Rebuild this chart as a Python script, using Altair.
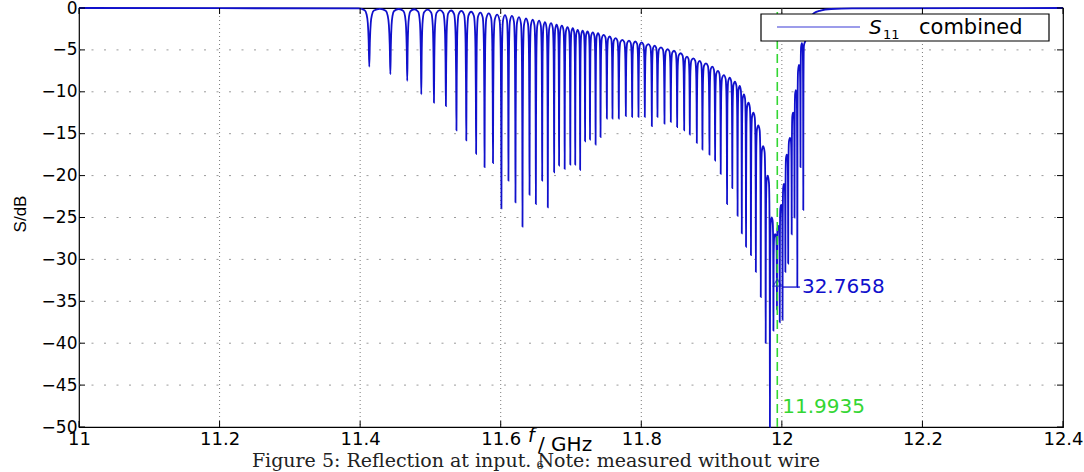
import altair as alt
import pandas as pd

# ---------------- values ----------------
x_ticks = [11.0, 11.2, 11.4, 11.6, 11.8, 12.0, 12.2, 12.4]
y_ticks = [0, -5, -10, -15, -20, -25, -30, -35, -40, -45, -50]

# flat part before the comb
head_ghz = [11.0, 11.2, 11.398]
head_db = [0.0, -0.02, -0.05]

# notch (dip) centres and depths
dip_ghz = [11.413, 11.443, 11.467, 11.487, 11.505, 11.522, 11.537, 11.551, 11.565, 11.577,
           11.589, 11.601, 11.611, 11.621, 11.631, 11.641, 11.650, 11.659, 11.667, 11.676,
           11.683, 11.691, 11.699, 11.706, 11.713, 11.720, 11.727, 11.735, 11.742, 11.751,
           11.759, 11.768, 11.778, 11.787, 11.796, 11.805, 11.815, 11.823, 11.833, 11.842,
           11.851, 11.861, 11.869, 11.879, 11.887, 11.897, 11.905, 11.913, 11.922, 11.9295,
           11.937, 11.943, 11.949, 11.956, 11.963, 11.970, 11.977, 11.983, 11.988, 11.993,
           11.997, 12.001, 12.005, 12.009, 12.014, 12.018, 12.022, 12.0265, 12.0305]
dip_db = [-7.0, -7.9, -8.7, -10.3, -11.3, -11.7, -14.6, -15.8, -17.4, -19.0,
          -18.5, -23.9, -20.6, -23.2, -26.1, -22.3, -23.4, -20.6, -23.8, -19.6,
          -18.8, -19.2, -18.7, -18.7, -19.3, -15.9, -15.7, -16.3, -15.4, -13.2,
          -13.2, -13.2, -12.9, -13.0, -13.0, -13.0, -14.1, -13.0, -13.8, -13.6,
          -14.2, -14.6, -15.1, -16.1, -16.9, -17.5, -18.2, -19.8, -23.4, -21.5,
          -24.8, -26.9, -28.5, -29.5, -31.5, -34.5, -40.0, -50.0, -38.5, -36.0,
          -37.5, -37.2, -31.5, -30.5, -27.0, -25.0, -33.3, -19.0, -24.1]
# level of the arch between consecutive notches
arch_db = [-0.1, -0.12, -0.15, -0.2, -0.25, -0.3, -0.35, -0.45, -0.55, -0.65,
           -0.8, -0.85, -0.95, -1.1, -1.25, -1.4, -1.5, -1.7, -1.8, -2.0,
           -2.1, -2.3, -2.4, -2.6, -2.7, -2.8, -2.9, -3.0, -3.2, -3.4,
           -3.6, -3.8, -3.9, -4.0, -4.1, -4.3, -4.5, -4.7, -4.9, -5.1,
           -5.4, -5.8, -6.0, -6.3, -6.6, -7.0, -7.5, -8.0, -8.3, -8.8,
           -9.3, -10.3, -11.3, -12.5, -14.0, -16.5, -20.0, -25.0, -27.0, -26.0,
           -23.5, -21.0, -17.5, -15.5, -12.5, -9.8, -6.8, -4.2]

# recovery after the comb
tail_ghz = [12.0335, 12.037, 12.041, 12.046, 12.055, 12.07, 12.1, 12.4]
tail_db = [-3.9, -2.2, -1.1, -0.6, -0.3, -0.12, -0.05, 0.0]

# data cursor / marker annotations
cursor_ghz = 11.9935
cursor_db = -32.7658
leader_ghz = [12.0016, 12.0257]
leader_db = -33.3
freq_label_db = -47.6

# ---------------- build the curve (notch outline between read points) ----------------
# (fraction of the gap from the notch centre, fraction of the way back up to the arch)
PROFILE = [(0.03, 0.45), (0.07, 0.75), (0.13, 0.9), (0.22, 0.97)]
pts = list(zip(head_ghz, head_db))
n = len(dip_ghz)
for i in range(n):
    x = dip_ghz[i]
    d = dip_db[i]
    gl = x - dip_ghz[i - 1] if i > 0 else dip_ghz[1] - dip_ghz[0]
    gr = dip_ghz[i + 1] - x if i < n - 1 else gl
    L = arch_db[i - 1] if i > 0 else head_db[-1]
    R = arch_db[i] if i < n - 1 else tail_db[0]
    for fx, fy in reversed(PROFILE):
        pts.append((x - fx * gl, d + fy * (L - d)))
    pts.append((x, d))
    for fx, fy in PROFILE:
        pts.append((x + fx * gr, d + fy * (R - d)))
    if i < n - 1:
        pts.append(((x + dip_ghz[i + 1]) / 2, arch_db[i]))
pts += list(zip(tail_ghz, tail_db))
curve = pd.DataFrame(pts, columns=["f", "s"])

W, H = 984, 419
BLUE = "#1010cc"
GREEN = "#33d633"
SANS = "DejaVu Sans"

xs = alt.Scale(domain=[11.0, 12.4], nice=False, zero=False)
ys = alt.Scale(domain=[-50, 0], nice=False, zero=False)
xa = alt.Axis(values=x_ticks, format="~g", title=None, grid=False, ticks=False, domain=False,
              labelFont=SANS, labelFontSize=18, labelColor="black", labelPadding=3,
              labelFlush=False, labelOverlap=False)
ya = alt.Axis(values=y_ticks, format="~g", title=None, grid=False, ticks=False, domain=False,
              labelFont=SANS, labelFontSize=17, labelColor="black", labelPadding=2,
              labelFlush=False, labelOverlap=False)


def X(field):
    return alt.X(field, scale=xs, axis=xa)


def Y(field):
    return alt.Y(field, scale=ys, axis=ya)


one = pd.DataFrame({"a": [0]})

xgrid = alt.Chart(pd.DataFrame({"t": x_ticks[1:-1]})).mark_rule(
    color="#7a7a7a", strokeWidth=1, strokeDash=[1, 3]
).encode(x=X("t:Q"), y=alt.value(0), y2=alt.value(H))

ygrid = alt.Chart(pd.DataFrame({"t": y_ticks[1:-1]})).mark_rule(
    color="#9a9a9a", strokeWidth=1, strokeDash=[2, 10.5]
).encode(y=Y("t:Q"), x=alt.value(0), x2=alt.value(W))

line = alt.Chart(curve).mark_line(
    color=BLUE, strokeWidth=1.8, interpolate="monotone"
).encode(x=X("f:Q"), y=Y("s:Q"))

vline = alt.Chart(pd.DataFrame({"f": [cursor_ghz], "y0": [-50], "y1": [0]})).mark_rule(
    color=GREEN, strokeWidth=1.6, strokeDash=[9, 5]
).encode(x=X("f:Q"), y=Y("y0:Q"), y2="y1:Q")

xt = pd.DataFrame({"t": x_ticks})
yt = pd.DataFrame({"t": y_ticks})
tick_b = alt.Chart(xt).mark_rule(color="black", strokeWidth=1).encode(
    x=X("t:Q"), y=alt.value(H), y2=alt.value(H - 6))
tick_t = alt.Chart(xt).mark_rule(color="black", strokeWidth=1).encode(
    x=X("t:Q"), y=alt.value(0), y2=alt.value(6))
tick_l = alt.Chart(yt).mark_rule(color="black", strokeWidth=1).encode(
    y=Y("t:Q"), x=alt.value(0), x2=alt.value(6))
tick_r = alt.Chart(yt).mark_rule(color="black", strokeWidth=1).encode(
    y=Y("t:Q"), x=alt.value(W), x2=alt.value(W - 6))

cur = pd.DataFrame({"f": [cursor_ghz], "s": [cursor_db]})
marker = alt.Chart(cur).mark_point(
    shape="triangle-up", filled=False, color=BLUE, size=70, strokeWidth=1.2
).encode(x=X("f:Q"), y=Y("s:Q"))

leader = alt.Chart(pd.DataFrame({"a": [leader_ghz[0]], "b": [leader_ghz[1]], "s": [leader_db]})).mark_rule(
    color=BLUE, strokeWidth=1.3
).encode(x=X("a:Q"), x2="b:Q", y=Y("s:Q"))

val_text = alt.Chart(pd.DataFrame({"f": [leader_ghz[1]], "s": [leader_db], "t": ["32.7658"]})).mark_text(
    color=BLUE, font=SANS, fontSize=20, align="left", baseline="middle", dx=2
).encode(x=X("f:Q"), y=Y("s:Q"), text="t:N")

freq_text = alt.Chart(pd.DataFrame({"f": [cursor_ghz], "s": [freq_label_db], "t": ["11.9935"]})).mark_text(
    color=GREEN, font=SANS, fontSize=20, align="left", baseline="middle", dx=5
).encode(x=X("f:Q"), y=Y("s:Q"), text="t:N")

# legend
leg_box = alt.Chart(one).mark_rect(fill="white", stroke="black", strokeWidth=1.2).encode(
    x=alt.value(682), x2=alt.value(970), y=alt.value(6), y2=alt.value(33))
leg_line = alt.Chart(one).mark_rule(color="#3a3ad6", strokeWidth=1.2).encode(
    x=alt.value(698), x2=alt.value(781), y=alt.value(19))
leg_s = alt.Chart(one).mark_text(text="S", font=SANS, fontSize=20, fontStyle="italic",
                                 align="left", baseline="alphabetic", color="black").encode(
    x=alt.value(790), y=alt.value(26))
leg_11 = alt.Chart(one).mark_text(text="11", font=SANS, fontSize=13,
                                  align="left", baseline="alphabetic", color="black").encode(
    x=alt.value(804), y=alt.value(31))
leg_c = alt.Chart(one).mark_text(text="combined", font=SANS, fontSize=21,
                                 align="left", baseline="alphabetic", color="black").encode(
    x=alt.value(840), y=alt.value(26))

# titles and caption
ytitle = alt.Chart(one).mark_text(text="S/dB", font="Liberation Sans", fontSize=17, angle=270,
                                  align="center", baseline="middle", color="black").encode(
    x=alt.value(-58), y=alt.value(206))
xf = alt.Chart(one).mark_text(text="f", font=SANS, fontSize=19, fontStyle="italic",
                              align="left", baseline="middle", color="black").encode(
    x=alt.value(449), y=alt.value(428))
xunit = alt.Chart(one).mark_text(text="/ GHz", font=SANS, fontSize=20,
                                 align="left", baseline="middle", color="black").encode(
    x=alt.value(459), y=alt.value(437))
caption = alt.Chart(one).mark_text(text="Figure 5: Reflection at input. Note: measured without wire",
                                   font="DejaVu Serif", fontSize=19, align="center",
                                   baseline="middle", color="#222222").encode(
    x=alt.value(457), y=alt.value(453))
page = alt.Chart(one).mark_text(text="6", font="DejaVu Serif", fontSize=11, align="center",
                                baseline="middle", color="#222222").encode(
    x=alt.value(461), y=alt.value(458))

chart = alt.layer(
    xgrid, ygrid, line, vline, tick_b, tick_t, tick_l, tick_r,
    marker, leader, val_text, freq_text,
    leg_box, leg_line, leg_s, leg_11, leg_c,
    ytitle, xf, xunit, caption, page,
).properties(
    width=W, height=H,
    padding={"left": 79, "top": 8, "right": 21, "bottom": 45},
    autosize=alt.AutoSizeParams(type="none"),
    background="white",
).configure_view(stroke="black", strokeWidth=1.2)

chart.save("out.html", embed_options={"renderer": "svg", "actions": False})
